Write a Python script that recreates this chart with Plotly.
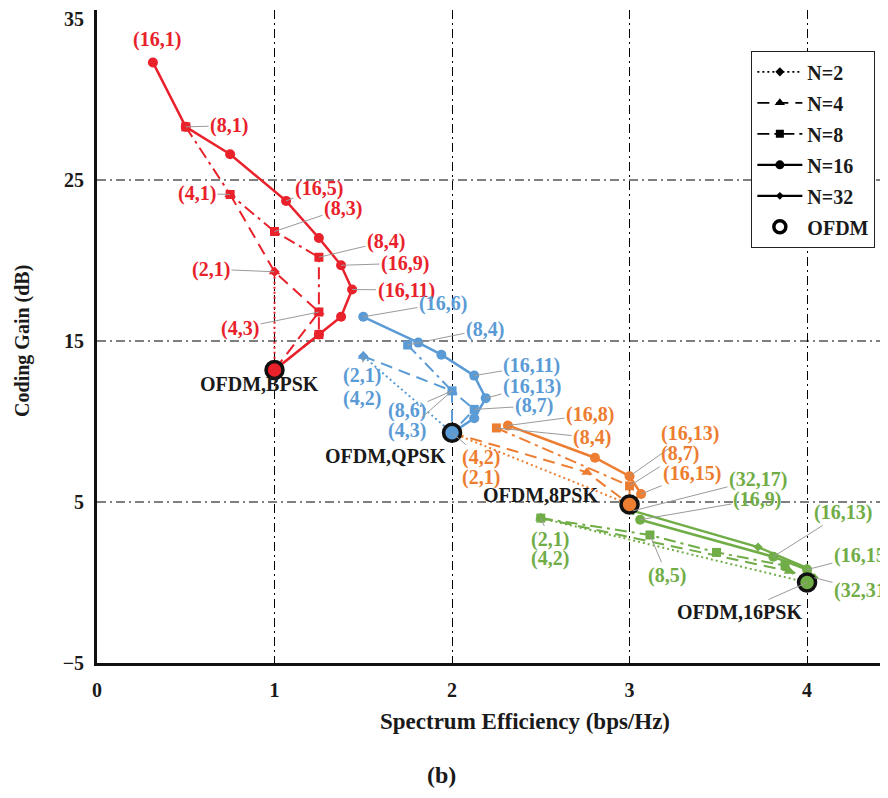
import plotly.graph_objects as go

# ---------------- data ----------------
OFDM_X = [1.0, 2.0, 3.0, 4.0]
OFDM_Y = [13.2, 9.3, 4.85, 0.0]

# BPSK (red)
BPSK_N2_X = [1.0, 1.0]
BPSK_N2_Y = [19.3, 13.2]
BPSK_N4_X = [0.75, 1.0, 1.25, 1.0]
BPSK_N4_Y = [24.1, 19.3, 16.8, 13.2]
BPSK_N8_X = [0.5, 0.75, 1.0, 1.25, 1.25, 1.25, 1.0]
BPSK_N8_Y = [28.3, 24.1, 21.8, 20.2, 16.8, 15.4, 13.2]
BPSK_N16_X = [0.315, 0.5, 0.75, 1.065, 1.25, 1.375, 1.437, 1.375, 1.25, 1.0]
BPSK_N16_Y = [32.3, 28.3, 26.6, 23.7, 21.4, 19.7, 18.2, 16.5, 15.4, 13.2]

# QPSK (blue)
QPSK_N2_X = [1.5, 2.0]
QPSK_N2_Y = [14.05, 9.3]
QPSK_N4_X = [1.5, 2.0, 2.0]
QPSK_N4_Y = [14.05, 11.9, 9.3]
QPSK_N8_X = [1.75, 2.0, 2.125, 2.0]
QPSK_N8_Y = [14.75, 11.9, 10.75, 9.3]
QPSK_N16_X = [1.5, 1.81, 1.94, 2.125, 2.19, 2.125, 2.0]
QPSK_N16_Y = [16.5, 14.9, 14.15, 12.85, 11.45, 10.2, 9.3]

# 8PSK (orange)
PSK8_N2_X = [2.0, 3.0]
PSK8_N2_Y = [9.3, 4.85]
PSK8_N4_X = [2.0, 2.76, 3.0]
PSK8_N4_Y = [9.3, 6.85, 4.85]
PSK8_N8_X = [2.25, 3.0, 3.0]
PSK8_N8_Y = [9.6, 6.0, 4.85]
PSK8_N16_X = [2.315, 2.805, 3.0, 3.065, 3.0]
PSK8_N16_Y = [9.75, 7.75, 6.6, 5.5, 4.85]

# 16PSK (green)
PSK16_N2_X = [2.5, 4.0]
PSK16_N2_Y = [4.0, 0.0]
PSK16_N4_X = [2.5, 3.9, 4.0]
PSK16_N4_Y = [4.0, 0.7, 0.0]
PSK16_N8_X = [2.5, 3.115, 3.49, 3.876, 4.0]
PSK16_N8_Y = [4.0, 2.95, 1.87, 1.05, 0.0]
PSK16_N16_X = [3.06, 3.81, 4.0, 4.0]
PSK16_N16_Y = [3.9, 1.6, 0.8, 0.0]
PSK16_N32_X = [3.02, 3.724, 4.0, 4.04]
PSK16_N32_Y = [4.45, 2.2, 0.9, 0.3]

X_TICKS = [0, 1, 2, 3, 4]
Y_TICKS = [-5, 5, 15, 25, 35]
GRID_Y = [5, 15, 25]
LEGEND_NAMES = ["N=2", "N=4", "N=8", "N=16", "N=32", "OFDM"]

# ---------------- styles ----------------
RED = "#E8212B"
BLUE = "#5B9BD5"
ORANGE = "#ED7D31"
GREEN = "#70AD47"
INK = "#1a1a1a"
FONT = "Liberation Serif"
GRID_DASH = "9px,4px,2px,4px"
LABEL_SIZE = 20

N_STYLE = {
    2: dict(dash="2px,3px", symbol="diamond", size=8, width=2),
    4: dict(dash="12px,7px", symbol="triangle-up", size=10, width=2),
    8: dict(dash="12px,5px,3px,5px", symbol="square", size=9, width=2),
    16: dict(dash="solid", symbol="circle", size=10, width=2.5),
    32: dict(dash="solid", symbol="diamond", size=7, width=2.5),
}

SERIES = {
    "BPSK_N2": (BPSK_N2_X, BPSK_N2_Y, 2, RED),
    "BPSK_N4": (BPSK_N4_X, BPSK_N4_Y, 4, RED),
    "BPSK_N8": (BPSK_N8_X, BPSK_N8_Y, 8, RED),
    "BPSK_N16": (BPSK_N16_X, BPSK_N16_Y, 16, RED),
    "QPSK_N2": (QPSK_N2_X, QPSK_N2_Y, 2, BLUE),
    "QPSK_N4": (QPSK_N4_X, QPSK_N4_Y, 4, BLUE),
    "QPSK_N8": (QPSK_N8_X, QPSK_N8_Y, 8, BLUE),
    "QPSK_N16": (QPSK_N16_X, QPSK_N16_Y, 16, BLUE),
    "PSK8_N2": (PSK8_N2_X, PSK8_N2_Y, 2, ORANGE),
    "PSK8_N4": (PSK8_N4_X, PSK8_N4_Y, 4, ORANGE),
    "PSK8_N8": (PSK8_N8_X, PSK8_N8_Y, 8, ORANGE),
    "PSK8_N16": (PSK8_N16_X, PSK8_N16_Y, 16, ORANGE),
    "PSK16_N2": (PSK16_N2_X, PSK16_N2_Y, 2, GREEN),
    "PSK16_N4": (PSK16_N4_X, PSK16_N4_Y, 4, GREEN),
    "PSK16_N8": (PSK16_N8_X, PSK16_N8_Y, 8, GREEN),
    "PSK16_N16": (PSK16_N16_X, PSK16_N16_Y, 16, GREEN),
    "PSK16_N32": (PSK16_N32_X, PSK16_N32_Y, 32, GREEN),
    "OFDM": (OFDM_X, OFDM_Y, 0, "black"),
}
OFDM_FILL = [RED, BLUE, ORANGE, GREEN]

# label: text, series, point index, text x, text y (data coords), colour, leader?
LABELS = [
    ("(16,1)", "BPSK_N16", 0, 0.338, 33.7, RED, False),
    ("(8,1)", "BPSK_N8", 0, 0.744, 28.37, RED, True),
    ("(4,1)", "BPSK_N8", 1, 0.563, 24.16, RED, True),
    ("(16,5)", "BPSK_N16", 3, 1.25, 24.47, RED, True),
    ("(8,3)", "BPSK_N8", 2, 1.386, 23.24, RED, True),
    ("(8,4)", "BPSK_N8", 3, 1.628, 21.19, RED, True),
    ("(2,1)", "BPSK_N4", 1, 0.642, 19.46, RED, True),
    ("(16,9)", "BPSK_N16", 5, 1.735, 19.83, RED, True),
    ("(16,11)", "BPSK_N16", 6, 1.741, 18.16, RED, True),
    ("(4,3)", "BPSK_N4", 2, 0.806, 15.8, RED, True),
    ("OFDM,BPSK", "OFDM", 0, 0.913, 12.34, INK, False),

    ("(16,6)", "QPSK_N16", 0, 1.949, 17.35, BLUE, True),
    ("(8,4)", "QPSK_N8", 0, 2.186, 15.74, BLUE, True),
    ("(16,11)", "QPSK_N16", 3, 2.45, 13.45, BLUE, True),
    ("(16,13)", "QPSK_N16", 4, 2.45, 12.2, BLUE, True),
    ("(8,7)", "QPSK_N8", 2, 2.462, 10.97, BLUE, True),
    ("(2,1)", "QPSK_N2", 0, 1.493, 12.85, BLUE, True),
    ("(4,2)", "QPSK_N4", 0, 1.493, 11.4, BLUE, False),
    ("(8,6)", "QPSK_N8", 1, 1.746, 10.68, BLUE, True),
    ("(4,3)", "QPSK_N4", 1, 1.746, 9.43, BLUE, True),
    ("OFDM,QPSK", "OFDM", 1, 1.623, 7.88, INK, False),

    ("(4,2)", "PSK8_N4", 0, 2.163, 7.75, ORANGE, True),
    ("(2,1)", "PSK8_N2", 0, 2.163, 6.52, ORANGE, False),
    ("(16,8)", "PSK8_N16", 0, 2.777, 10.42, ORANGE, True),
    ("(8,4)", "PSK8_N8", 0, 2.789, 9.0, ORANGE, True),
    ("(16,13)", "PSK8_N16", 2, 3.34, 9.24, ORANGE, True),
    ("(8,7)", "PSK8_N8", 1, 3.285, 8.0, ORANGE, True),
    ("(16,15)", "PSK8_N16", 3, 3.352, 6.77, ORANGE, True),
    ("OFDM,8PSK", "OFDM", 2, 2.496, 5.46, INK, False),

    ("(32,17)", "PSK16_N32", 0, 3.724, 6.42, GREEN, True),
    ("(16,9)", "PSK16_N16", 0, 3.718, 5.15, GREEN, True),
    ("(16,13)", "PSK16_N16", 1, 4.203, 4.35, GREEN, True),
    ("(16,15)", "PSK16_N16", 2, 4.315, 1.69, GREEN, True),
    ("(32,31)", "PSK16_N32", 3, 4.315, -0.48, GREEN, True),
    ("(2,1)", "PSK16_N2", 0, 2.552, 2.7, GREEN, True),
    ("(4,2)", "PSK16_N4", 0, 2.552, 1.52, GREEN, False),
    ("(8,5)", "PSK16_N8", 1, 3.211, 0.45, GREEN, True),
    ("OFDM,16PSK", "OFDM", 3, 3.622, -1.84, INK, True),
]

fig = go.Figure()

# draw order: N2, N4, N16, N8, N32 so squares sit on top of circles
for n in [2, 4, 16, 8, 32]:
    st = N_STYLE[n]
    for key, (xs, ys, nn, col) in SERIES.items():
        if nn != n:
            continue
        fig.add_trace(go.Scatter(
            x=xs, y=ys, mode="lines+markers", showlegend=False,
            line=dict(color=col, width=st["width"], dash=st["dash"]),
            marker=dict(symbol=st["symbol"], size=st["size"], color=col),
            hoverinfo="skip",
        ))

# OFDM reference points
fig.add_trace(go.Scatter(
    x=OFDM_X, y=OFDM_Y, mode="markers", showlegend=False,
    marker=dict(symbol="circle", size=17, color=OFDM_FILL,
                line=dict(color="#111111", width=3.5)),
    hoverinfo="skip",
))

# legend entries (black)
for rank, name in enumerate(LEGEND_NAMES):
    if name == "OFDM":
        fig.add_trace(go.Scatter(
            x=[None], y=[None], mode="markers", name=name,
            legendgroup=name, legendrank=rank,
            marker=dict(symbol="circle-open", size=12, color="black",
                        line=dict(width=3.5, color="black")),
        ))
    else:
        st = N_STYLE[int(name[2:])]
        fig.add_trace(go.Scatter(
            x=[None], y=[None], mode="lines+markers", name=name,
            legendgroup=name, legendrank=rank,
            line=dict(color="black", width=1.6 if st["width"] < 2.5 else 2.2,
                      dash=st["dash"]),
            marker=dict(symbol=st["symbol"], size=st["size"] - 1, color="black"),
        ))

annotations = []
for text, key, idx, tx, ty, col, leader in LABELS:
    xs, ys = SERIES[key][0], SERIES[key][1]
    font = dict(family=FONT, size=LABEL_SIZE, color=col, weight="bold")
    if leader:
        annotations.append(dict(
            x=xs[idx], y=ys[idx], ax=tx, ay=ty, axref="x", ayref="y",
            xref="x", yref="y", text=text, showarrow=True, arrowhead=0,
            arrowwidth=1, arrowcolor="#9a9a9a", standoff=0, font=font,
            xanchor="center", yanchor="middle",
        ))
    else:
        annotations.append(dict(
            x=tx, y=ty, xref="x", yref="y", text=text, showarrow=False,
            font=font, xanchor="center", yanchor="middle",
        ))

annotations += [
    dict(x=0.541, y=-0.090, xref="paper", yref="paper",
         xanchor="center", yanchor="middle",
         text="Spectrum Efficiency (bps/Hz)", showarrow=False,
         font=dict(family=FONT, size=23, color=INK, weight="bold")),
    dict(x=-0.095, y=0.493, xref="paper", yref="paper", textangle=-90,
         xanchor="center", yanchor="middle",
         text="Coding Gain (dB)", showarrow=False,
         font=dict(family=FONT, size=20, color=INK, weight="bold")),
    dict(x=0.436, y=-0.171, xref="paper", yref="paper", text="(b)",
         xanchor="center", yanchor="middle", showarrow=False,
         font=dict(family=FONT, size=24, color=INK, weight="bold")),
]

shapes = [dict(type="line", xref="paper", yref="y", x0=0, x1=1, y0=g, y1=g,
               layer="below", line=dict(color="black", width=1.2, dash=GRID_DASH))
          for g in GRID_Y]

# the page adds an 8 px body margin, so the figure is 8 px smaller
fig.update_layout(
    width=880, height=790,
    margin=dict(l=89, r=0, t=0, b=135),
    paper_bgcolor="white", plot_bgcolor="white",
    annotations=annotations, shapes=shapes,
    legend=dict(x=0.827, y=0.937, xanchor="left", yanchor="top",
                bgcolor="white", bordercolor="#222222", borderwidth=1.2,
                font=dict(family=FONT, size=20, color=INK, weight="bold"),
                itemwidth=45, tracegroupgap=2),
    xaxis=dict(range=[0, 4.456], tickvals=X_TICKS, showgrid=True,
               gridcolor="black", gridwidth=1.2, griddash=GRID_DASH,
               showline=True, linecolor="#111111", linewidth=2.8,
               zeroline=False, ticks="", ticklabelstandoff=7,
               ticklabeloverflow="allow",
               tickfont=dict(family=FONT, size=20, color=INK, weight="bold")),
    yaxis=dict(range=[-5, 35.557], tickvals=Y_TICKS, showgrid=False,
               showline=True, linecolor="#111111", linewidth=2.8,
               zeroline=False, ticks="", ticklabelstandoff=6,
               ticklabeloverflow="allow",
               tickfont=dict(family=FONT, size=20, color=INK, weight="bold")),
)

fig.write_html("out.html")
